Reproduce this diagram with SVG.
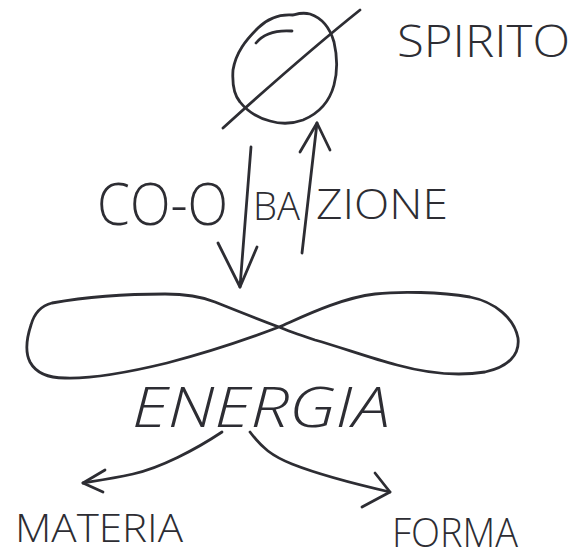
<svg xmlns="http://www.w3.org/2000/svg" width="577" height="560" viewBox="0 0 577 560">
<style>
.ink{fill:none;stroke:#2d2d33;stroke-width:2.8;stroke-linecap:round;stroke-linejoin:round}
.txt{font-family:"Open Sans","Liberation Sans",sans-serif;font-weight:300;fill:#2d2d33}
</style>
<rect width="577" height="560" fill="#fff"/>
<g id="spirito">
<path class="ink" d="M293,15 C280,14 268,18 258,28 C246,40 236,52 233,70 C232,85 234,95 240,102 C248,112 258,118 270,121 C280,124 292,124 303,120 C320,113 330,100 334,85 C338,70 337,55 334,42 C330,28 322,18 310,14 C302,12 297,14 293,15"/>
<path class="ink" d="M292,31 C278,30 264,33 256,43"/>
<path class="ink" d="M223,128 C265,90 310,50 360,10"/>
<text class="txt" x="397" y="57" font-size="45" textLength="173" lengthAdjust="spacingAndGlyphs">SPIRITO</text>
</g>
<g id="coobazione">
<text class="txt" x="97" y="225" font-size="58" textLength="131" lengthAdjust="spacingAndGlyphs">CO-O</text>
<text class="txt" x="253" y="220" font-size="39" textLength="47" lengthAdjust="spacingAndGlyphs">BA</text>
<text class="txt" x="316" y="219" font-size="43" textLength="132" lengthAdjust="spacingAndGlyphs">ZIONE</text>
</g>
<g id="energia">
<path class="ink" d="M279,327 C260,320 240,312 215,302 C200,296 185,294 165,294 C120,294 80,298 52,303 C40,306 34,314 31,325 C27,337 25,352 30,362 C36,373 48,378 65,378 C95,379 130,372 167,363 C205,353 245,340 279,327 C300,318 340,298 375,294 C400,291 440,292 470,297 C495,302 514,318 518,338 C520,355 508,367 485,372 C460,376 430,374 397,365 C370,358 340,347 315,340 C300,335 288,331 279,327 Z"/>
<text class="txt" x="132" y="427" font-size="55" font-style="italic" textLength="258" lengthAdjust="spacingAndGlyphs">ENERGIA</text>
</g>
<g id="materia">
<text class="txt" x="15" y="542" font-size="38" textLength="168" lengthAdjust="spacingAndGlyphs">MATERIA</text>
</g>
<g id="forma">
<text class="txt" x="392" y="547" font-size="40" textLength="126" lengthAdjust="spacingAndGlyphs">FORMA</text>
</g>
<g id="connectors">
<path class="ink" d="M251,147 L240,287"/>
<path class="ink" d="M218,243 L240,287 L257,247"/>
<path class="ink" d="M302,253 L317,123"/>
<path class="ink" d="M300,152 L317,123 L330,150"/>
<path class="ink" d="M222,432 C195,450 160,468 133,474 C110,479 95,481 83,483"/>
<path class="ink" d="M105,470 L83,483 L103,492"/>
<path class="ink" d="M250,432 C262,448 272,456 292,464 C320,475 355,484 390,492"/>
<path class="ink" d="M375,473 L390,492 L362,507"/>
</g>
</svg>
